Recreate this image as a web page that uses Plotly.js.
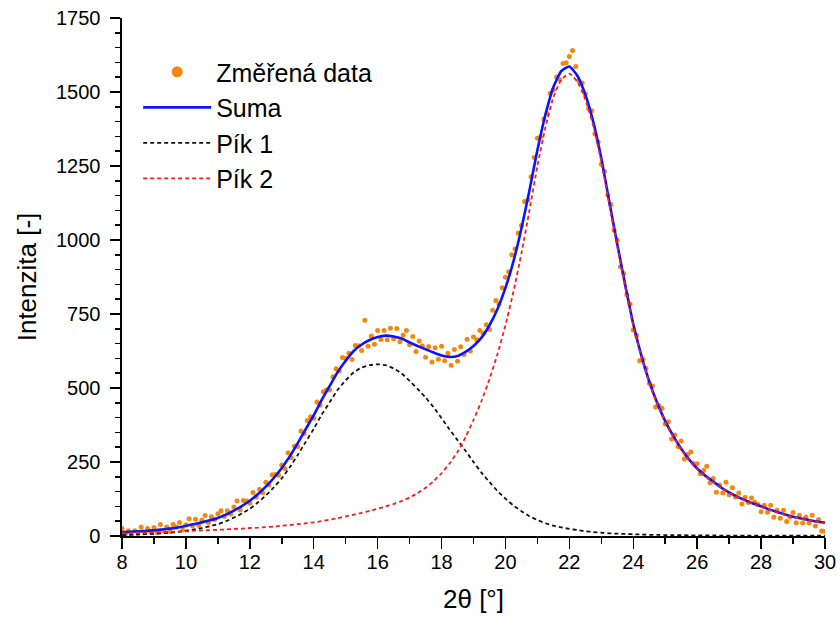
<!DOCTYPE html>
<html>
<head>
<meta charset="utf-8">
<script src="https://cdn.plot.ly/plotly-3.0.1.min.js"></script>
<style>html,body{margin:0;padding:0;background:#fff;}#chart{width:840px;height:628px;}</style>
</head>
<body>
<div id="chart"></div>
<script>
// Measured data (2theta, intensity)
const dataX = [8.0,8.1,8.2,8.3,8.4,8.5,8.6,8.7,8.8,8.9,9.0,9.1,9.2,9.3,9.4,9.5,9.6,9.7,9.8,9.9,
10.0,10.1,10.2,10.3,10.4,10.5,10.6,10.7,10.8,10.9,11.0,11.1,11.2,11.3,11.4,11.5,11.6,11.7,11.8,11.9,
12.0,12.1,12.2,12.3,12.4,12.5,12.6,12.7,12.8,12.9,13.0,13.1,13.2,13.3,13.4,13.5,13.6,13.7,13.8,13.9,
14.0,14.1,14.2,14.3,14.4,14.5,14.6,14.7,14.8,14.9,15.0,15.1,15.2,15.3,15.4,15.5,15.6,15.7,15.8,15.9,
16.0,16.1,16.2,16.3,16.4,16.5,16.6,16.7,16.8,16.9,17.0,17.1,17.2,17.3,17.4,17.5,17.6,17.7,17.8,17.9,
18.0,18.1,18.2,18.3,18.4,18.5,18.6,18.7,18.8,18.9,19.0,19.1,19.2,19.3,19.4,19.5,19.6,19.7,19.8,19.9,
20.0,20.1,20.2,20.3,20.4,20.5,20.6,20.7,20.8,20.9,21.0,21.1,21.2,21.3,21.4,21.5,21.6,21.7,21.8,21.9,
22.0,22.1,22.2,22.3,22.4,22.5,22.6,22.7,22.8,22.9,23.0,23.1,23.2,23.3,23.4,23.5,23.6,23.7,23.8,23.9,
24.0,24.1,24.2,24.3,24.4,24.5,24.6,24.7,24.8,24.9,25.0,25.1,25.2,25.3,25.4,25.5,25.6,25.7,25.8,25.9,
26.0,26.1,26.2,26.3,26.4,26.5,26.6,26.7,26.8,26.9,27.0,27.1,27.2,27.3,27.4,27.5,27.6,27.7,27.8,27.9,
28.0,28.1,28.2,28.3,28.4,28.5,28.6,28.7,28.8,28.9,29.0,29.1,29.2,29.3,29.4,29.5,29.6,29.7,29.8,29.9,30.0];
const dataY = [25,5,18,4,18,10,30,12,25,14,29,12,39,17,30,15,39,30,46,20,
38,58,35,57,36,54,69,46,65,56,75,85,66,85,74,98,118,88,120,118,
111,147,132,158,146,182,172,207,208,205,240,228,281,264,304,302,355,346,390,403,
398,453,442,487,494,493,538,565,558,603,600,617,596,644,643,627,729,641,676,648,
694,664,694,663,702,666,701,656,679,694,646,674,623,659,642,604,640,588,636,597,
641,592,617,577,630,590,639,613,665,625,672,663,694,685,714,698,763,796,783,839,
874,893,950,970,1024,1049,1130,1135,1214,1279,1344,1348,1409,1428,1496,1507,1551,1541,1596,1599,
1620,1640,1586,1537,1530,1493,1444,1437,1358,1331,1256,1231,1152,1120,1033,1000,910,887,815,784,
696,678,592,597,566,516,507,436,441,432,378,386,328,341,302,321,260,275,284,244,
244,210,221,236,180,194,148,172,145,182,139,163,132,145,108,131,113,128,114,106,
82,104,80,104,63,87,60,87,49,64,79,45,70,44,64,44,70,34,56,17,15];

// Fitted curves
const fitX = [8,8.25,8.5,8.75,9,9.25,9.5,9.75,10,10.25,10.5,10.75,11,11.25,11.5,11.75,
12,12.25,12.5,12.75,13,13.25,13.5,13.75,14,14.25,14.5,14.75,15,15.25,15.5,15.75,
16,16.25,16.5,16.75,17,17.25,17.5,17.75,18,18.25,18.5,18.75,19,19.25,19.5,19.75,
20,20.25,20.5,20.75,21,21.25,21.5,21.75,22,22.25,22.5,22.75,23,23.25,23.5,23.75,
24,24.25,24.5,24.75,25,25.25,25.5,25.75,26,26.25,26.5,26.75,27,27.25,27.5,27.75,
28,28.25,28.5,28.75,29,29.25,29.5,29.75,30];
const suma = [13,14,16,17,19,22,25,29,34,40,46,53,61,72,86,101,
119,141,167,196,230,269,314,361,408,460,507,554,592,625,647,662,
672,677,674,667,654,642,631,620,610,605,608,622,642,670,712,767,
838,928,1039,1167,1304,1423,1517,1571,1586,1555,1491,1398,1276,1129,986,847,
716,611,522,449,388,338,295,258,228,204,184,164,147,133,121,110,
100,90,81,73,65,59,54,49,45];
const pik1 = [3,4,5,6,7,9,11,14,18,22,27,33,40,50,62,76,
92,113,137,164,195,232,274,318,362,410,452,494,526,553,569,577,
580,577,566,549,524,497,468,435,398,360,324,288,250,214,182,152,
126,103,84,67,54,43,35,29,24,20,16,13,11,9,8,7,
6,5,4,4,3,3,3,2,2,2,2,1,1,1,1,1,
1,1,1,1,1,1,1,1,1];
const pik2 = [10,10,11,11,12,13,14,15,16,18,19,20,21,22,24,25,
27,28,30,32,35,37,40,43,46,50,55,60,66,72,78,85,
92,100,108,118,130,145,163,185,212,245,284,334,392,456,530,615,
712,825,955,1100,1250,1380,1482,1542,1562,1535,1475,1385,1265,1120,978,840,
710,606,518,445,385,335,292,256,226,202,182,163,146,132,120,109,
99,89,80,72,64,58,53,48,44];

const names = ['Změřená data','Suma','Pík 1','Pík 2'];
const orange = '#f5870f';
const font = 'Liberation Sans, Arial, sans-serif';

const traces = [
  {x:[null], y:[null], type:'scatter', mode:'markers', name:names[0], legendgroup:'a',
   marker:{color:orange, size:11}},
  {x:dataX, y:dataY, type:'scatter', mode:'markers', showlegend:false, legendgroup:'a',
   marker:{color:orange, size:5}},
  {x:fitX, y:suma, type:'scatter', mode:'lines', name:names[1], legendgroup:'b',
   line:{color:'#0a14ff', width:2.6, shape:'spline', smoothing:0.5}},
  {x:fitX, y:pik1, type:'scatter', mode:'lines', name:names[2], legendgroup:'c',
   line:{color:'#111', width:1.8, dash:'4px,3px', shape:'spline', smoothing:0.5}},
  {x:fitX, y:pik2, type:'scatter', mode:'lines', name:names[3], legendgroup:'d',
   line:{color:'#ff1a1a', width:1.8, dash:'4px,3px', shape:'spline', smoothing:0.5}}
];

const axBase = {showgrid:false, zeroline:false, showline:true, linecolor:'#000', linewidth:1.6,
  tickcolor:'#000', tickwidth:1.5};

const layout = {
  width:840, height:628,
  margin:{l:122, r:15, t:18, b:92},
  paper_bgcolor:'#fff', plot_bgcolor:'#fff',
  font:{family:font, color:'#000'},
  showlegend:true,
  legend:{x:0.023, y:0.94, xanchor:'left', yanchor:'top', bgcolor:'rgba(0,0,0,0)',
    font:{family:font, size:25, color:'#000'}, itemwidth:68, tracegroupgap:0,
    traceorder:'grouped'},
  xaxis:Object.assign({}, axBase, {range:[8,30], dtick:2, tick0:8, ticks:'outside', ticklen:11,
    ticklabelstandoff:-4,
    tickfont:{size:20, family:font}, title:{text:'2θ [°]', font:{size:26, family:font}, standoff:18},
    minor:{dtick:1, ticks:'outside', ticklen:6, tickcolor:'#000', tickwidth:1.5}}),
  yaxis:Object.assign({}, axBase, {range:[0,1750], dtick:250, tick0:0, ticks:'outside', ticklen:10,
    ticklabelstandoff:6,
    tickfont:{size:20, family:font}, title:{text:'Intenzita [-]', font:{size:26, family:font}, standoff:12},
    minor:{dtick:50, ticks:'outside', ticklen:5, tickcolor:'#000', tickwidth:1.5}}),
  xaxis2:Object.assign({}, axBase, {overlaying:'x', side:'top', anchor:'y', range:[8,30], dtick:2, tick0:8,
    ticks:'inside', ticklen:7, showticklabels:false,
    minor:{dtick:1, ticks:'inside', ticklen:4, tickcolor:'#000', tickwidth:1.5}}),
  yaxis2:Object.assign({}, axBase, {overlaying:'y', side:'right', anchor:'x', range:[0,1750], dtick:250, tick0:0,
    ticks:'inside', ticklen:7, showticklabels:false,
    minor:{dtick:50, ticks:'inside', ticklen:4, tickcolor:'#000', tickwidth:1.5}})
};

Plotly.newPlot('chart', traces, layout, {displayModeBar:false, staticPlot:true});
</script>
</body>
</html>
